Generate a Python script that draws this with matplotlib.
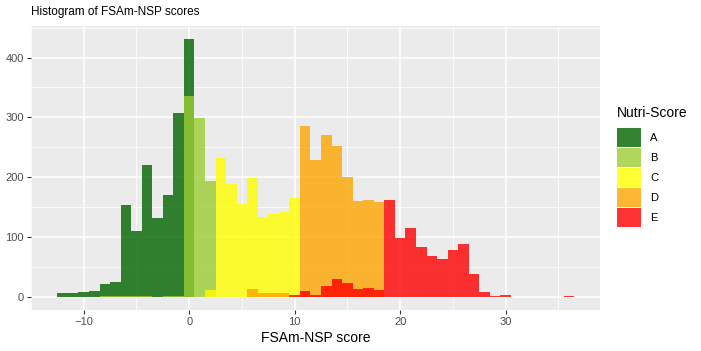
import numpy as np
import matplotlib
matplotlib.use("Agg")
import matplotlib.pyplot as plt
from matplotlib.patches import Patch

plt.rcParams['font.family'] = ['Liberation Sans', 'DejaVu Sans']

# counts per FSAm-NSP score (bin width 1), one series per Nutri-Score grade
grades = ['A', 'B', 'C', 'D', 'E']
colors = ['darkgreen', 'yellowgreen', 'yellow', 'orange', 'red']

a_scores = [-12, -11, -10, -9, -8, -7, -6, -5, -4, -3, -2, -1, 0]
a_counts = [6, 6, 8, 10, 22, 25, 154, 110, 221, 132, 171, 307, 431]

b_scores = [-8, -7, -6, -5, -4, -2, -1, 0, 1, 2]
b_counts = [1, 1, 1, 1, 1, 1, 1, 335, 299, 194]

c_scores = [2, 3, 4, 5, 6, 7, 8, 9, 10]
c_counts = [12, 233, 188, 155, 199, 134, 139, 142, 165]

d_scores = [6, 7, 8, 9, 11, 12, 13, 14, 15, 16, 17, 18]
d_counts = [13, 7, 7, 7, 286, 229, 271, 252, 201, 160, 162, 158]

e_scores = [10, 11, 12, 13, 14, 15, 16, 17, 18, 19, 20, 21, 22, 23, 24, 25,
            26, 27, 28, 29, 30, 36]
e_counts = [4, 11, 4, 19, 30, 24, 14, 16, 12, 162, 99, 115, 83, 69, 63, 78,
            89, 38, 9, 2, 4, 1]

series = [(a_scores, a_counts), (b_scores, b_counts), (c_scores, c_counts),
          (d_scores, d_counts), (e_scores, e_counts)]

bg = '#EBEBEB'
txt = '#4D4D4D'

fig = plt.figure(figsize=(7.01, 3.51), dpi=100)
ax = fig.add_axes([31/701, 1-310/351, (600-31)/701, (310-26)/351])
ax.set_facecolor(bg)

for (sc, ct), col in zip(series, colors):
    ax.bar(sc, ct, width=1.0, color=col, alpha=0.8, linewidth=0, zorder=3)

ax.set_xlim(-14.95, 38.95)
ax.set_ylim(-21.55, 452.6)
ax.set_xticks([-10, 0, 10, 20, 30])
ax.set_xticks([-15, -5, 5, 15, 25, 35], minor=True)
ax.set_yticks([0, 100, 200, 300, 400])
ax.set_yticks([50, 150, 250, 350, 450], minor=True)
ax.grid(True, which='major', color='white', linewidth=1.1, zorder=0)
ax.grid(True, which='minor', color='white', linewidth=0.55, zorder=0)
ax.set_axisbelow(True)
for s in ax.spines.values():
    s.set_visible(False)
ax.tick_params(which='major', length=3, width=0.8, color='#333333',
               labelsize=8, labelcolor=txt, pad=2)
ax.tick_params(which='minor', length=0)

ax.set_xlabel('FSAm-NSP score', fontsize=10, color='black', labelpad=3)
fig.text(31/701, 1-12/351, 'Histogram of FSAm-NSP scores', fontsize=8.5,
         ha='left', va='center')

handles = [Patch(facecolor=c, alpha=0.8, edgecolor='none') for c in colors]
leg = fig.legend(handles, grades, title='Nutri-Score', loc='upper left',
                 bbox_to_anchor=(617/701, 1-106/351), frameon=False,
                 fontsize=8, title_fontsize=10, handlelength=2.2,
                 handleheight=2.2, labelspacing=0.12, handletextpad=0.8,
                 borderaxespad=0, borderpad=0)
leg._legend_box.align = 'left'
leg._legend_box.sep = 6

fig.savefig('out.png', dpi=100)
